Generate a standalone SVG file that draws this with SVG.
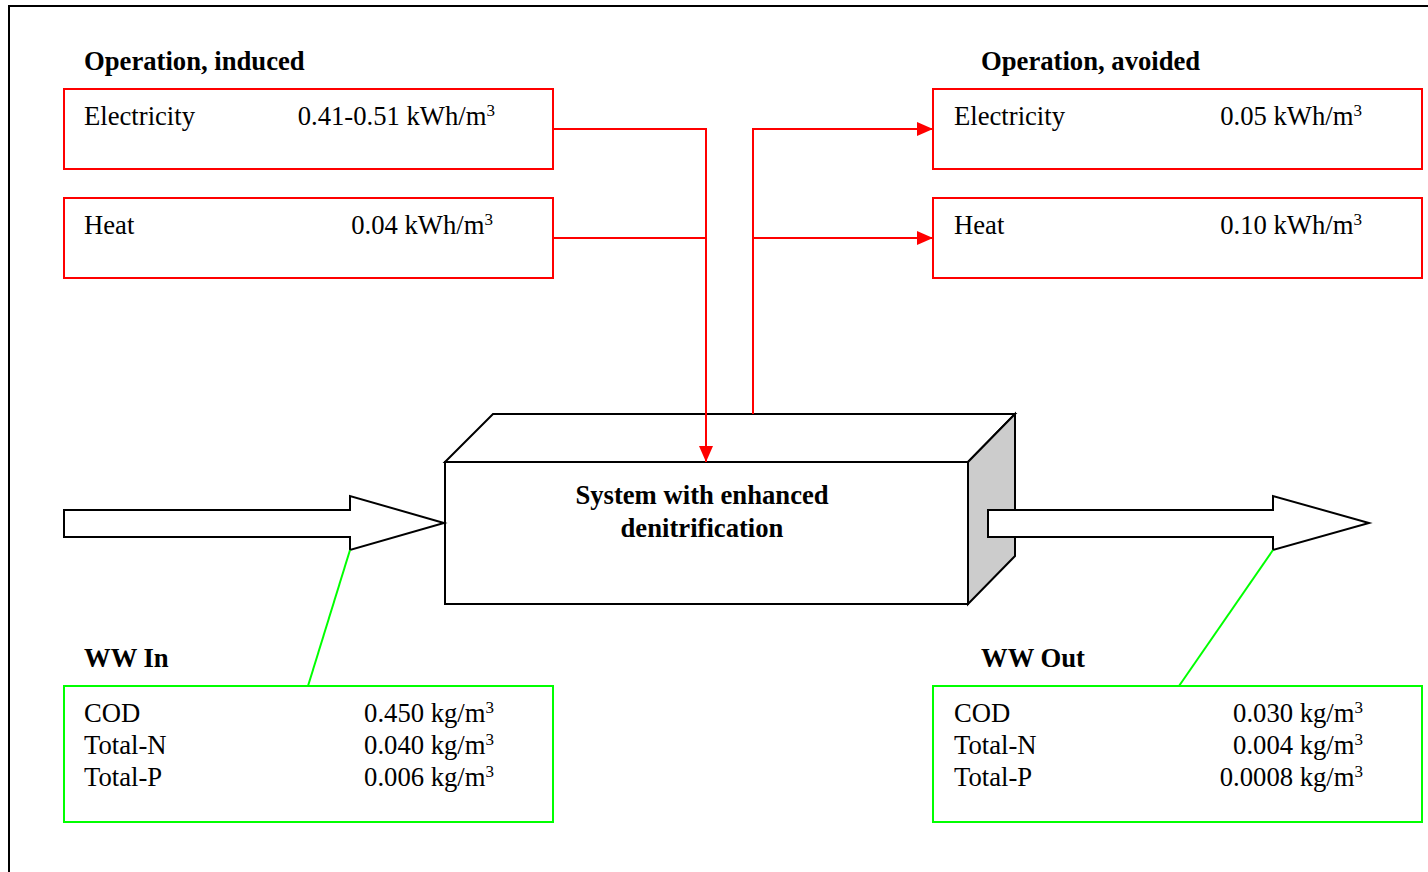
<svg xmlns="http://www.w3.org/2000/svg" width="1428" height="872" viewBox="0 0 1428 872">
<defs>
<style>
text{font-family:"Liberation Serif","Times New Roman",serif;font-size:26.67px;fill:#000}
.b{font-weight:bold}
.e{text-anchor:end}
.m{text-anchor:middle}
.sup{font-size:17px}
.red{fill:#fff;stroke:#ff0000;stroke-width:2}
.grn{fill:#fff;stroke:#00ff00;stroke-width:2}
.rl{fill:none;stroke:#ff0000;stroke-width:2}
.gl{fill:none;stroke:#00ff00;stroke-width:2}
.blk{fill:#fff;stroke:#000;stroke-width:2;stroke-linejoin:miter}
</style>
<marker id="ah" markerWidth="16" markerHeight="14" viewBox="0 0 16 14" refX="16" refY="7" orient="auto" markerUnits="userSpaceOnUse">
<path d="M0,0 L16,7 L0,14 Z" fill="#ff0000"/>
</marker>
</defs>
<rect x="0" y="0" width="1428" height="872" fill="#fff"/>
<path d="M9,872 V6 H1428" fill="none" stroke="#000" stroke-width="2"/>

<text class="b" x="84" y="70">Operation, induced</text>
<text class="b" x="981" y="70">Operation, avoided</text>

<g id="induced-electricity">
<rect class="red" x="64" y="89" width="489" height="80"/>
<text x="84" y="125">Electricity</text>
<text class="e" x="495" y="125">0.41-0.51 kWh/m<tspan class="sup" dy="-9">3</tspan></text>
</g>
<g id="induced-heat">
<rect class="red" x="64" y="198" width="489" height="80"/>
<text x="84" y="234">Heat</text>
<text class="e" x="493" y="234">0.04 kWh/m<tspan class="sup" dy="-9">3</tspan></text>
</g>
<g id="avoided-electricity">
<rect class="red" x="933" y="89" width="489" height="80"/>
<text x="954" y="125">Electricity</text>
<text class="e" x="1362" y="125">0.05 kWh/m<tspan class="sup" dy="-9">3</tspan></text>
</g>
<g id="avoided-heat">
<rect class="red" x="933" y="198" width="489" height="80"/>
<text x="954" y="234">Heat</text>
<text class="e" x="1362" y="234">0.10 kWh/m<tspan class="sup" dy="-9">3</tspan></text>
</g>

<g id="system">
<polygon class="blk" points="445,462 493,414 1015,414 968,462"/>
<polygon points="968,462 1015,414 1015,556 968,604" fill="#cccccc" stroke="#000" stroke-width="2"/>
<rect class="blk" x="445" y="462" width="523" height="142"/>
<text class="b m" x="702" y="504">System with enhanced</text>
<text class="b m" x="702" y="537">denitrification</text>
</g>

<g id="ww-in-arrow">
<polygon class="blk" points="64,510 350,510 350,496 444,523 350,550 350,537 64,537"/>
</g>
<g id="ww-out-arrow">
<polygon class="blk" points="988,510 1273,510 1273,496 1369,523 1273,550 1273,537 988,537"/>
</g>

<g id="connectors">
<polyline class="rl" points="553,129 706,129 706,462" marker-end="url(#ah)"/>
<line class="rl" x1="553" y1="238" x2="706" y2="238"/>
<polyline class="rl" points="753,414 753,129 933,129" marker-end="url(#ah)"/>
<line class="rl" x1="753" y1="238" x2="933" y2="238" marker-end="url(#ah)"/>
<line class="gl" x1="350" y1="550" x2="308" y2="686"/>
<line class="gl" x1="1273" y1="550" x2="1179" y2="686"/>
</g>

<text class="b" x="84" y="667">WW In</text>
<text class="b" x="981" y="667">WW Out</text>

<g id="ww-in">
<rect class="grn" x="64" y="686" width="489" height="136"/>
<text x="84" y="722">COD</text>
<text x="84" y="754">Total-N</text>
<text x="84" y="786">Total-P</text>
<text class="e" x="494" y="722">0.450 kg/m<tspan class="sup" dy="-9">3</tspan></text>
<text class="e" x="494" y="754">0.040 kg/m<tspan class="sup" dy="-9">3</tspan></text>
<text class="e" x="494" y="786">0.006 kg/m<tspan class="sup" dy="-9">3</tspan></text>
</g>
<g id="ww-out">
<rect class="grn" x="933" y="686" width="489" height="136"/>
<text x="954" y="722">COD</text>
<text x="954" y="754">Total-N</text>
<text x="954" y="786">Total-P</text>
<text class="e" x="1363" y="722">0.030 kg/m<tspan class="sup" dy="-9">3</tspan></text>
<text class="e" x="1363" y="754">0.004 kg/m<tspan class="sup" dy="-9">3</tspan></text>
<text class="e" x="1363" y="786">0.0008 kg/m<tspan class="sup" dy="-9">3</tspan></text>
</g>
</svg>
